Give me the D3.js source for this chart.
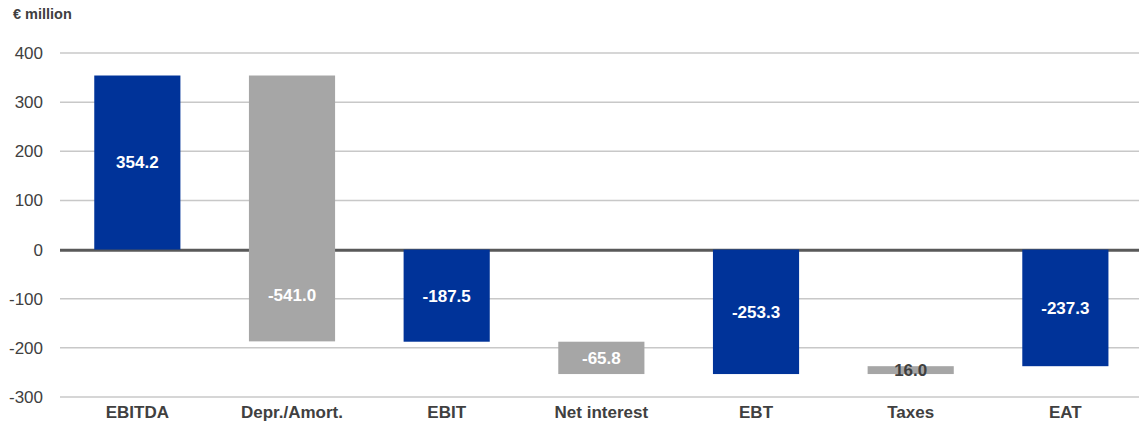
<!DOCTYPE html>
<html>
<head>
<meta charset="utf-8">
<script src="https://cdn.jsdelivr.net/npm/d3@7"></script>
<style>
  html, body { margin: 0; padding: 0; background: #fff; }
  svg { display: block; font-family: "Liberation Sans", Arial, sans-serif; }
</style>
</head>
<body>
<svg id="chart" width="1139" height="426"></svg>
<script>
// Data
const categories = ["EBITDA", "Depr./Amort.", "EBIT", "Net interest", "EBT", "Taxes", "EAT"];
const values = [354.2, -541.0, -187.5, -65.8, -253.3, 16.0, -237.3];
const isTotal = [true, false, true, false, true, false, true];
const labels = ["354.2", "-541.0", "-187.5", "-65.8", "-253.3", "16.0", "-237.3"];
const yTicks = [400, 300, 200, 100, 0, -100, -200, -300];
const unitLabel = "€ million";

const W = 1139, H = 426;
const plotLeft = 60, bandRight = 1142.7;
const svg = d3.select("#chart");

const y = d3.scaleLinear().domain([-300, 400]).range([397, 53]);
const x = d3.scaleBand().domain(categories).range([plotLeft, bandRight])
  .paddingInner(0.443).paddingOuter(0.2215);

// waterfall segments
let running = 0;
const bars = categories.map((c, i) => {
  let start, end;
  if (isTotal[i]) { start = 0; end = values[i]; running = values[i]; }
  else { start = running; end = running + values[i]; running = end; }
  return { cat: c, start, end, total: isTotal[i], label: labels[i], value: values[i] };
});

// gridlines
svg.append("g").selectAll("line")
  .data(yTicks.filter(t => t !== 0))
  .join("line")
  .attr("x1", plotLeft).attr("x2", W)
  .attr("y1", d => y(d)).attr("y2", d => y(d))
  .attr("stroke", "#c8c8c8").attr("stroke-width", 1.5);

// zero line
svg.append("line")
  .attr("x1", plotLeft).attr("x2", W)
  .attr("y1", y(0) + 0.8).attr("y2", y(0) + 0.8)
  .attr("stroke", "#595959").attr("stroke-width", 3);

// y axis labels
const yAxis = d3.axisLeft(y).tickValues(yTicks).tickSize(0).tickPadding(0).tickFormat(d => String(d));
const gy = svg.append("g").attr("transform", "translate(43,0)").call(yAxis);
gy.select(".domain").remove();
gy.selectAll("text")
  .attr("font-family", "'Liberation Sans', Arial, sans-serif")
  .attr("font-size", 17).attr("fill", "#404040");

// bars
svg.append("g").selectAll("rect")
  .data(bars)
  .join("rect")
  .attr("x", d => x(d.cat))
  .attr("width", x.bandwidth())
  .attr("y", d => y(Math.max(d.start, d.end)))
  .attr("height", d => Math.abs(y(d.start) - y(d.end)))
  .attr("fill", d => d.total ? "#003399" : "#a6a6a6");

// value labels
function labelValue(d) {
  const lo = Math.min(d.start, d.end), hi = Math.max(d.start, d.end);
  if (lo < 0 && hi > 0) {
    return d.value < 0 ? lo / 2 : hi / 2;
  }
  return (lo + hi) / 2;
}
svg.append("g").selectAll("text")
  .data(bars)
  .join("text")
  .attr("x", d => x(d.cat) + x.bandwidth() / 2)
  .attr("y", d => y(labelValue(d)))
  .attr("dy", "0.35em")
  .attr("text-anchor", "middle")
  .attr("font-size", 17).attr("font-weight", "bold")
  .attr("fill", d => Math.abs(y(d.start) - y(d.end)) < 20 ? "#404040" : "#ffffff")
  .text(d => d.label);

// category labels
const xAxis = d3.axisBottom(x).tickSize(0).tickPadding(0);
const gx = svg.append("g").attr("transform", "translate(0,406)").call(xAxis);
gx.select(".domain").remove();
gx.selectAll("text")
  .attr("font-family", "'Liberation Sans', Arial, sans-serif")
  .attr("font-size", 17).attr("font-weight", "bold").attr("fill", "#404040")
  .attr("dy", "0.71em");

// unit label
svg.append("text")
  .attr("x", 13).attr("y", 19)
  .attr("font-size", 14.5).attr("font-weight", "bold").attr("fill", "#404040")
  .text(unitLabel);
</script>
</body>
</html>
